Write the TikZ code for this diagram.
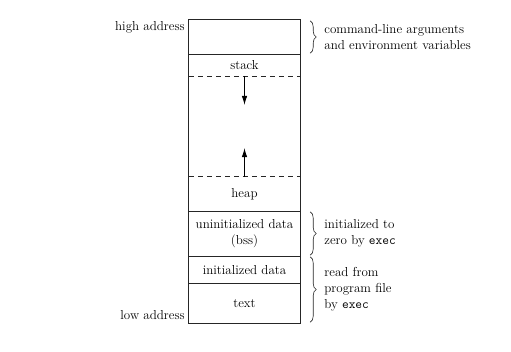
\documentclass[tikz,border=0pt]{standalone}
\usetikzlibrary{arrows.meta,positioning,calc,decorations.pathreplacing}

\begin{document}
\begin{tikzpicture}[x=1pt, y=-1pt, font=\fontsize{13}{16}\selectfont,
  seg/.style={minimum width=111pt, inner sep=0pt, align=center},
  line/.style={draw=black!85, line width=0.7pt},
  dashedline/.style={draw=black!85, line width=0.7pt, dash pattern=on 5pt off 4pt},
  arrow/.style={-{Latex[length=9pt,width=5.5pt]}, line width=0.7pt, draw=black},
  brace/.style={decorate, decoration={brace, amplitude=6pt}, draw=black!85, line width=0.6pt},
  note/.style={anchor=west, align=left, inner sep=0pt}]
\useasboundingbox (0,0) rectangle (511,351);
\node[seg, minimum height=34pt] (args) at (244.5,37) {};
\node[seg, minimum height=22pt] (stack) at (244.5,65) {stack};
\node[seg, minimum height=101pt] (free) at (244.5,126.5) {};
\node[seg, minimum height=34pt] (heap) at (244.5,194) {heap};
\node[seg, minimum height=45pt] (bss) at (244.5,233.5) {uninitialized data\\(bss)};
\node[seg, minimum height=27.5pt] (data) at (244.5,269.75) {initialized data};
\node[seg, minimum height=39.5pt] (text) at (244.5,303.25) {text};
\draw[line] (args.north west) rectangle (text.south east);
\draw[line] (args.south west) -- (args.south east);
\draw[dashedline] (stack.south west) -- (stack.south east);
\draw[dashedline] (heap.north west) -- (heap.north east);
\draw[line] (heap.south west) -- (heap.south east);
\draw[line] (bss.south west) -- (bss.south east);
\draw[line] (data.south west) -- (data.south east);
\coordinate (downtip) at ($(free.north)+(0,29)$);
\coordinate (uptip) at ($(free.south)+(0,-29)$);
\draw[arrow] (free.north) -- (downtip);
\draw[arrow] (free.south) -- (uptip);
\node[anchor=east, inner sep=0pt] (high) at ($(args.north west)+(-4,8)$) {high address};
\node[anchor=east, inner sep=0pt] (low) at ($(text.south west)+(-4,-8)$) {low address};
\draw[brace] ($(args.north east)+(10,1)$) -- ($(args.south east)+(10,-1)$) coordinate[midway, xshift=14pt] (argsbrace);
\draw[brace] ($(bss.north east)+(10,1)$) -- ($(bss.south east)+(10,-1)$) coordinate[midway, xshift=14pt] (bssbrace);
\draw[brace] ($(data.north east)+(10,1)$) -- ($(text.south east)+(10,-1)$) coordinate[midway, xshift=14pt] (filebrace);
\node[note] (argsnote) at (argsbrace) {command-line arguments\\and environment variables};
\node[note] (bssnote) at (bssbrace) {initialized to\\zero by \texttt{exec}};
\node[note] (filenote) at (filebrace) {read from\\program file\\by \texttt{exec}};
\end{tikzpicture}
\end{document}
